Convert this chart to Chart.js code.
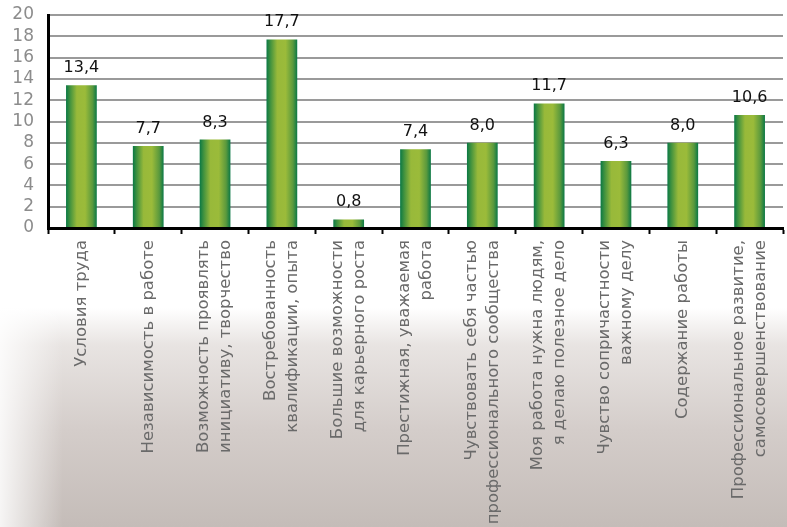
<!DOCTYPE html>
<html lang="ru">
<head>
<meta charset="utf-8">
<script src="https://cdn.jsdelivr.net/npm/chart.js@4.4.1/dist/chart.umd.min.js"></script>
<style>
  html, body { margin: 0; padding: 0; }
  body {
    width: 787px; height: 527px; overflow: hidden;
    background:
      linear-gradient(to right, rgba(255,255,255,0.85) 0%, rgba(255,255,255,0) 8%) 0 300px / 100% 227px no-repeat,
      linear-gradient(to bottom, #fff 0px, #fff 308px, #e8e4e2 345px, #d4cdca 430px, #c4bcb8 527px);
  }
  #wrap { position: relative; width: 787px; height: 527px; }
</style>
</head>
<body>
<div id="wrap"><canvas id="barChart"></canvas></div>
<script>
// категории (подписи по оси X, по строкам)
const categories = [
  ['Условия труда'],
  ['Независимость в работе'],
  ['Возможность проявлять', 'инициативу, творчество'],
  ['Востребованность', 'квалификации, опыта'],
  ['Большие возможности', 'для карьерного роста'],
  ['Престижная, уважаемая', 'работа'],
  ['Чувствовать себя частью', 'профессионального сообщества'],
  ['Моя работа нужна людям,', 'я делаю полезное дело'],
  ['Чувство сопричастности', 'важному делу'],
  ['Содержание работы'],
  ['Профессиональное развитие,', 'самосовершенствование']
];
const values = [13.4, 7.7, 8.3, 17.7, 0.8, 7.4, 8.0, 11.7, 6.3, 8.0, 10.6];
const yTicks = [0, 2, 4, 6, 8, 10, 12, 14, 16, 18, 20];

const fontFamily = '"DejaVu Sans", Verdana, sans-serif';
const barPct = 0.46;

// цилиндрическая заливка: свой градиент для каждого столбца
function barFill(context) {
  const chart = context.chart;
  const xScale = chart.scales.x;
  if (!xScale || context.dataIndex === undefined) return '#8fb53a';
  const cx = xScale.getPixelForTick(context.dataIndex);
  const w = xScale.width / categories.length * barPct;
  if (!isFinite(cx) || !isFinite(w) || w <= 0) return '#8fb53a';
  const g = chart.ctx.createLinearGradient(cx - w / 2, 0, cx + w / 2, 0);
  g.addColorStop(0, '#0a7845');
  g.addColorStop(0.12, '#3d903f');
  g.addColorStop(0.35, '#98b93a');
  g.addColorStop(0.62, '#9bbb3a');
  g.addColorStop(0.86, '#5a993d');
  g.addColorStop(1, '#0a7845');
  return g;
}

// подписи значений над столбцами
const valueLabels = {
  id: 'valueLabels',
  afterDatasetsDraw(chart) {
    const ctx = chart.ctx;
    ctx.save();
    ctx.font = '16px ' + fontFamily;
    ctx.fillStyle = '#111';
    ctx.textAlign = 'center';
    ctx.textBaseline = 'alphabetic';
    chart.getDatasetMeta(0).data.forEach((bar, i) => {
      ctx.fillText(values[i].toFixed(1).replace('.', ','), bar.x, bar.y - 13);
    });
    ctx.restore();
  }
};

// вертикальные подписи категорий, блок строк центрирован под столбцом
const categoryLabels = {
  id: 'categoryLabels',
  afterDraw(chart) {
    const ctx = chart.ctx;
    const xScale = chart.scales.x;
    const top = chart.chartArea.bottom + 12;
    const lineH = 22;
    ctx.save();
    ctx.font = '16.5px ' + fontFamily;
    ctx.fillStyle = '#6a6a6a';
    ctx.textAlign = 'right';
    ctx.textBaseline = 'middle';
    categories.forEach((lines, i) => {
      const cx = xScale.getPixelForTick(i);
      const first = cx - (lines.length - 1) * lineH / 2;
      lines.forEach((line, j) => {
        ctx.save();
        ctx.translate(first + j * lineH, top);
        ctx.rotate(-Math.PI / 2);
        ctx.fillText(line, 0, 0);
        ctx.restore();
      });
    });
    ctx.restore();
  }
};

new Chart(document.getElementById('barChart'), {
  type: 'bar',
  data: {
    labels: categories,
    datasets: [{
      data: values,
      backgroundColor: barFill,
      borderWidth: 0,
      barPercentage: barPct,
      categoryPercentage: 1
    }]
  },
  options: {
    responsive: true,
    maintainAspectRatio: false,
    animation: false,
    layout: { padding: { top: 0, right: 4, left: 0, bottom: 0 } },
    plugins: { legend: { display: false }, tooltip: { enabled: false } },
    scales: {
      x: {
        offset: true,
        grid: { offset: true, drawOnChartArea: false, drawTicks: true, tickLength: 6, tickColor: '#000', tickWidth: 2 },
        border: { color: '#000', width: 3 },
        ticks: { display: false },
        afterFit(scale) { scale.height = 299; }
      },
      y: {
        min: 0, max: 20,
        afterBuildTicks(scale) { scale.ticks = yTicks.map(v => ({ value: v })); },
        grid: { color: '#9a9a9a', lineWidth: 2, drawTicks: false },
        border: { color: '#000', width: 3 },
        ticks: { autoSkip: false, color: '#8c8c8c', padding: 14, font: { family: fontFamily, size: 17 } },
        afterFit(scale) {
          scale.width = 48;
          scale.paddingTop = 15;
          scale.paddingBottom = 0;
        }
      }
    }
  },
  plugins: [valueLabels, categoryLabels]
});
</script>
</body>
</html>
